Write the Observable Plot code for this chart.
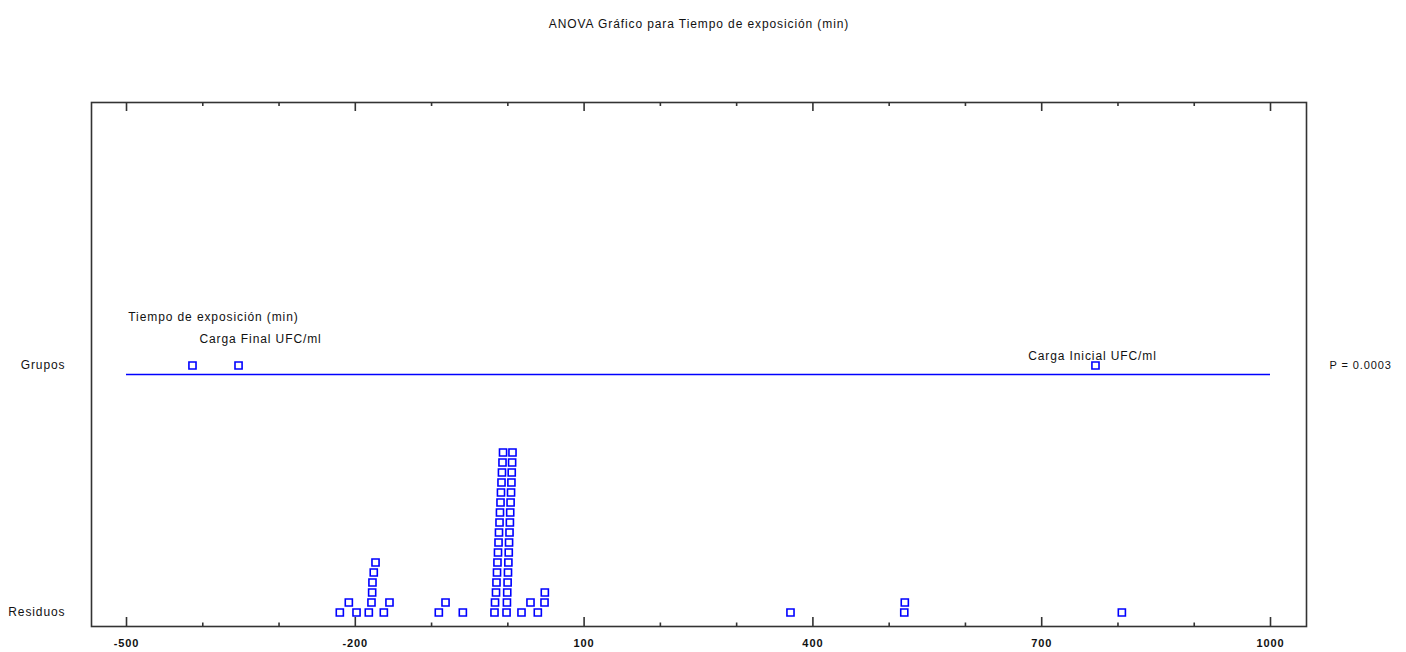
<!DOCTYPE html>
<html>
<head>
<meta charset="utf-8">
<script src="https://cdn.jsdelivr.net/npm/d3@7"></script>
<script src="https://cdn.jsdelivr.net/npm/@observablehq/plot@0.6"></script>
<style>
  html, body { margin: 0; padding: 0; background: #fff; }
  #chart svg { display: block; }
  #chart svg text { letter-spacing: 0.9px; }
  #chart svg g[aria-label="tick-labels"] text { letter-spacing: 0px; }
</style>
</head>
<body>
<div id="chart"></div>
<script>
// ---- data ----
const titleText = "ANOVA Gráfico para Tiempo de exposición (min)";
const groupNames = ["Tiempo de exposición (min)", "Carga Final UFC/ml", "Carga Inicial UFC/ml"];
const groupMeans = [-413.5, -353.1, 770.5];
const residuals = [
  -220.3, -208.5, -198.4, -182.3, -178.8, -177.9, -177.5, -175.8, -173.5, -162.6, -155.2,
  -90.5, -81.7, -59.0,
  -17.5, -16.8, -15.5, -14.9, -14.2, -13.6, -12.9, -12.2, -11.6, -10.9, -10.3, -9.6, -9.0, -8.3, -7.7, -7.0, -6.3,
  -1.7, -1.2, -0.8, -0.3, 0.2, 0.7, 1.2, 1.6, 2.2, 2.7, 3.1, 3.6, 4.2, 4.7, 5.1, 5.6, 6.1,
  17.9, 29.7, 39.3, 48.1, 48.5,
  370.6, 519.8, 520.5, 805.1
];
const majorTicks = [-500, -200, 100, 400, 700, 1000];
const minorTicks = [-400, -300, -100, 0, 200, 300, 500, 600, 800, 900];
const rowLabels = ["Grupos", "Residuos"];
const pText = "P = 0.0003";

// ---- layout helpers ----
const BLUE = "#0000ff";
const AXIS = "#333333";
const GROUP_LEVEL = 24.7;
const OVERLAP = 12; // x-units within which residual squares stack

// stack overlapping residual squares into rows
function stackRows(vals) {
  const rows = [];
  return vals.slice().sort((a, b) => a - b).map(v => {
    let k = 0;
    while ((rows[k] || []).some(u => Math.abs(u - v) < OVERLAP)) k++;
    (rows[k] = rows[k] || []).push(v);
    return {x: v, level: k};
  });
}
const residualPts = stackRows(residuals);
const groupPts = groupMeans.map((m, i) => ({x: m, name: groupNames[i]}));
// staggered label placement, as in the original
const labelDx = [21, 22, -3];
const labelDy = [-48, -26, -9];

const font = "'Liberation Sans', Arial, sans-serif";

const chart = Plot.plot({
  width: 1406,
  height: 652,
  marginLeft: 91,
  marginRight: 100,
  marginTop: 102,
  marginBottom: 26,
  style: {background: "#fff", fontFamily: font, fontSize: "11px", color: "#111"},
  x: {domain: [-545.9, 1047.2], axis: null},
  y: {domain: [-1.4, 51], axis: null},
  marks: [
    Plot.frame({stroke: AXIS, strokeWidth: 1.6}),
    // bottom ticks
    Plot.ruleX(majorTicks, {x: d => d, y1: -1.4, y2: -0.5, stroke: AXIS, strokeWidth: 1.6}),
    Plot.ruleX(minorTicks, {x: d => d, y1: -1.4, y2: -1.05, stroke: AXIS, strokeWidth: 1.6}),
    // top ticks
    Plot.ruleX(majorTicks, {x: d => d, y1: 51, y2: 50.1, stroke: AXIS, strokeWidth: 1.6}),
    Plot.ruleX(minorTicks, {x: d => d, y1: 51, y2: 50.6, stroke: AXIS, strokeWidth: 1.6}),
    Plot.text(majorTicks, {x: d => d, y: -1.4, dy: 17, text: d => String(d), fill: "#111", fontSize: 11, fontWeight: "bold", ariaLabel: "tick-labels"}),
    // group line and means
    Plot.ruleY([GROUP_LEVEL], {x1: majorTicks[0], x2: majorTicks[majorTicks.length - 1], dy: 9, stroke: BLUE, strokeWidth: 1.5}),
    Plot.dot(groupPts, {x: "x", y: () => GROUP_LEVEL, symbol: "square", r: 4, stroke: BLUE, strokeWidth: 1.6, fill: "#fff"}),
    ...groupPts.map((g, i) =>
      Plot.text([g], {x: "x", y: () => GROUP_LEVEL, text: "name", dx: labelDx[i], dy: labelDy[i], fill: "#111", fontSize: 12})
    ),
    // residuals
    Plot.dot(residualPts, {x: "x", y: "level", symbol: "square", r: 4, stroke: BLUE, strokeWidth: 1.6, fill: "#fff"}),
    // row labels
    Plot.text([rowLabels[0]], {frameAnchor: "left", y: () => GROUP_LEVEL, dx: -26, textAnchor: "end", fill: "#111", fontSize: 12}),
    Plot.text([rowLabels[1]], {frameAnchor: "left", y: () => 0, dx: -26, textAnchor: "end", fill: "#111", fontSize: 12}),
    Plot.text([pText], {frameAnchor: "right", y: () => GROUP_LEVEL, dx: 23, textAnchor: "start", fill: "#111", fontSize: 11}),
    // title
    Plot.text([titleText], {frameAnchor: "top", dy: -83, fill: "#111", fontSize: 12})
  ]
});

document.getElementById("chart").appendChild(chart);
</script>
</body>
</html>
